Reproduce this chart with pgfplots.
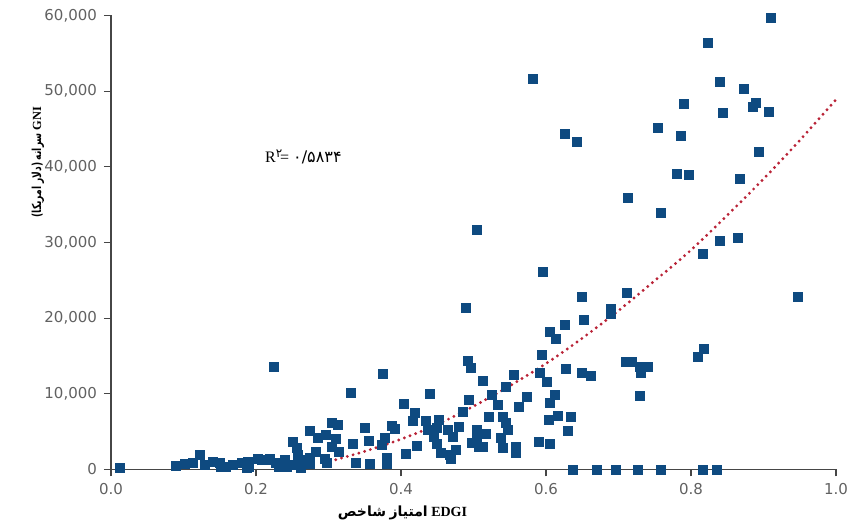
\documentclass[border=0pt]{standalone}
\usepackage{pgfplots}
\pgfplotsset{compat=1.18}
\usepackage{graphicx}
\usepackage{fontspec}
\setmainfont{Liberation Serif}
\newfontfamily\arabicfont[Script=Arabic]{DejaVu Sans}
\newfontfamily\tickfont{DejaVu Sans}
\newfontfamily\digitfont{DejaVu Sans}
\TeXXeTstate=1
\definecolor{markblue}{RGB}{14,74,128}
\definecolor{trendred}{RGB}{185,35,55}
\definecolor{axisgray}{RGB}{70,70,70}

\begin{document}
\begin{tikzpicture}
\path[use as bounding box] (-55.5pt,-29.75pt) rectangle (370pt,234.75pt);
\begin{axis}[
  at={(0,0)}, anchor=south west,
  scale only axis, width=362.5pt, height=227pt,
  xmin=0, xmax=1, ymin=0, ymax=60000,
  axis x line*=bottom, axis y line*=left,
  axis line style={axisgray, line width=0.6pt, -},
  tick align=outside, major tick length=3.5pt,
  tick style={axisgray, line width=0.6pt},
  xtick={0,0.2,0.4,0.6,0.8,1.0}, ytick={0,10000,20000,30000,40000,50000,60000},
  scaled y ticks=false,
  xticklabel style={/pgf/number format/.cd, fixed, fixed zerofill, precision=1},
  yticklabel style={/pgf/number format/.cd, fixed, 1000 sep={,}},
  ticklabel style={font=\tickfont\fontsize{7.5}{9}\selectfont, text=black!62},
  /pgf/number format/assume math mode=true,
  clip=false,
]
\addplot[only marks, mark=square*, mark size=2.25pt, color=markblue] table {
x y
0.910 59700
0.823 56340
0.582 51660
0.840 51190
0.873 50300
0.790 48280
0.886 47960
0.889 48490
0.844 47090
0.907 47260
0.626 44310
0.643 43260
0.755 45100
0.786 44130
0.894 41930
0.781 39060
0.797 38890
0.868 38360
0.713 35930
0.758 33870
0.505 31660
0.840 30170
0.865 30640
0.816 28450
0.596 26150
0.650 22840
0.712 23290
0.947 22840
0.489 21310
0.690 21250
0.690 20600
0.652 19760
0.626 19100
0.606 18140
0.613 17250
0.594 15100
0.591 12720
0.601 11530
0.628 13250
0.649 12720
0.662 12360
0.556 12490
0.545 10870
0.513 11700
0.525 9850
0.533 8530
0.573 9540
0.562 8220
0.612 9850
0.606 8750
0.617 7070
0.604 6540
0.635 6900
0.630 5130
0.521 6980
0.540 6900
0.544 6110
0.547 5220
0.517 4690
0.513 3010
0.538 4120
0.540 2800
0.558 3010
0.558 2220
0.590 3590
0.605 3330
0.730 13590
0.710 14250
0.719 14250
0.731 12720
0.741 13510
0.729 9760
0.809 14910
0.818 15890
0.637 0
0.670 0
0.697 0
0.727 0
0.758 0
0.816 0
0.836 0
0.492 14380
0.496 13380
0.440 9940
0.494 9190
0.404 8620
0.485 7560
0.419 7430
0.416 6410
0.434 6450
0.452 6540
0.449 5450
0.465 5220
0.480 5660
0.505 5220
0.437 5220
0.446 4340
0.472 4340
0.504 4340
0.498 3460
0.508 3010
0.449 3370
0.422 3100
0.407 2010
0.455 2140
0.476 2580
0.467 1920
0.469 1390
0.225 13590
0.375 12590
0.331 10070
0.305 6110
0.313 5880
0.350 5530
0.388 5790
0.391 5350
0.275 5090
0.296 4560
0.286 4120
0.310 4030
0.251 3680
0.304 3010
0.356 3770
0.334 3330
0.373 3240
0.378 4210
0.315 2350
0.256 2800
0.258 1920
0.283 2350
0.295 1390
0.298 820
0.274 1480
0.265 1260
0.240 1260
0.230 820
0.219 1350
0.208 1260
0.249 600
0.260 600
0.274 730
0.338 820
0.357 690
0.380 1480
0.380 690
0.232 300
0.262 250
0.012 160
0.090 460
0.102 730
0.113 900
0.122 1920
0.129 600
0.141 1030
0.150 820
0.152 370
0.159 370
0.168 600
0.180 820
0.187 160
0.189 1030
0.190 370
0.203 1350
0.214 1260
0.228 820
0.242 370
};
\addplot[trendred, line width=1.6pt, dash pattern=on 0pt off 3pt, line cap=round, smooth] coordinates {
(0.31,1300) (0.35,2400) (0.40,4000) (0.45,5950) (0.50,8350) (0.55,11050)
(0.60,14000) (0.65,17350) (0.70,21000) (0.75,24950) (0.80,29000)
(0.85,33600) (0.90,38400) (0.95,43500) (1.00,48900)
};
\node[anchor=west, inner sep=0pt, font=\fontsize{8}{9}\selectfont] at (axis cs:0.212,41300)
  {R\textsuperscript{\digitfont ۲}\kern-1.5pt= {\digitfont ۰/۵۸۳۴}};
\node[rotate=90, font=\fontsize{6.2}{7}\selectfont] at (rel axis cs:-0.1007,0.677)
  {\scalebox{0.74}[1]{{\arabicfont\bfseries\beginR(دلار امریکا)\endR}\ {\arabicfont\bfseries سرانه}}\ \textbf{GNI}};
\node[font=\fontsize{7}{8}\selectfont] at (rel axis cs:0.402,-0.0958)
  {{\arabicfont\bfseries شاخص}\ {\arabicfont\bfseries امتیاز}\ \textbf{EDGI}};
\end{axis}
\end{tikzpicture}
\end{document}
